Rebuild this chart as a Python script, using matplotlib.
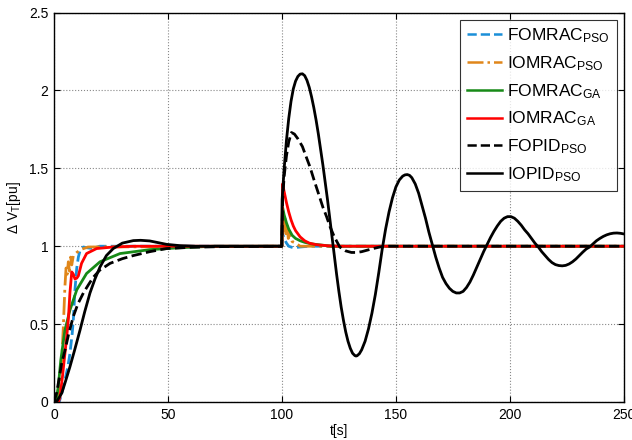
import numpy as np
import matplotlib
matplotlib.use("Agg")
import matplotlib.pyplot as plt

plt.rcParams['font.family'] = ['Liberation Sans', 'DejaVu Sans']
plt.rcParams['mathtext.fontset'] = 'custom'
plt.rcParams['mathtext.rm'] = 'Liberation Sans'
plt.rcParams['mathtext.it'] = 'Liberation Sans'

# FOMRAC_PSO
t_fomrac_pso = [0, 2.3, 3.5, 4.8, 6, 7, 8, 8.5, 9.2, 10, 10.7, 11.5, 12.9, 14.5, 17, 20,
                100, 100.3, 101, 102, 103, 105, 108, 112, 250]
v_fomrac_pso = [0, 0, 0.06, 0.14, 0.22, 0.31, 0.44, 0.53, 0.72, 0.86, 0.93, 0.975, 0.995, 0.99, 0.985, 1.0,
                1.0, 1.08, 1.05, 1.02, 1.0, 0.99, 0.995, 1.0, 1.0]

# IOMRAC_PSO
t_iomrac_pso = [0, 1.5, 2.5, 3.4, 4.1, 4.8, 5.3, 5.8, 6.3, 6.8, 7.3, 7.8, 8.5, 10, 12, 15,
                100, 100.3, 100.8, 101.3, 101.8, 102.3, 102.8, 103.5, 104.5, 106, 108, 112, 250]
v_iomrac_pso = [0, 0.04, 0.14, 0.27, 0.48, 0.74, 0.86, 0.82, 0.9, 0.84, 0.93, 0.88, 0.94, 0.96, 0.98, 0.995,
                1.0, 1.22, 1.1, 1.18, 1.08, 1.14, 1.05, 1.08, 1.03, 1.02, 1.0, 1.0, 1.0]

# FOMRAC_GA
t_fomrac_ga = [0, 1, 1.9, 3, 4.8, 7, 10, 14.3, 20.2, 29, 42, 55, 70,
               100, 100.3, 101, 102, 103, 104.5, 106, 108, 110, 113, 117, 122, 250]
v_fomrac_ga = [0, 0.01, 0.1, 0.27, 0.46, 0.59, 0.72, 0.825, 0.9, 0.953, 0.978, 0.99, 1.0,
               1.0, 1.25, 1.2, 1.15, 1.11, 1.07, 1.05, 1.035, 1.025, 1.015, 1.008, 1.0, 1.0]

# IOMRAC_GA
t_iomrac_ga = [0, 2, 2.6, 3.7, 4.8, 5.6, 6.3, 7, 7.8, 8.5, 9.2, 10, 10.7, 12.1, 14.3, 18.7, 26, 35,
               100, 100.3, 101, 102, 103, 104, 105, 106, 108, 110, 112, 115, 120, 125, 250]
v_iomrac_ga = [0, 0, 0.03, 0.16, 0.31, 0.42, 0.53, 0.7, 0.835, 0.82, 0.79, 0.795, 0.81, 0.89, 0.953, 0.985, 0.995, 1.0,
               1.0, 1.4, 1.35, 1.28, 1.22, 1.17, 1.13, 1.1, 1.06, 1.035, 1.02, 1.01, 1.003, 1.0, 1.0]

# FOPID_PSO
t_fopid = [0, 1.2, 1.9, 3.4, 4.8, 6.5, 8.5, 10.5, 12.9, 15, 17.2, 20, 24.6, 30, 34.8, 42, 49.4, 60, 75,
           100, 100.3, 101, 102, 103, 104.2, 105.5, 107, 109, 110.5, 112.3, 114, 116, 118, 119.6, 121,
           123, 125.4, 128, 130.5, 132.7, 135, 137.5, 140, 143, 147, 250]
v_fopid = [0, 0.06, 0.12, 0.25, 0.33, 0.44, 0.55, 0.63, 0.70, 0.75, 0.80, 0.845, 0.89, 0.92, 0.94, 0.965, 0.985, 0.993, 0.998,
           1.0, 1.3, 1.45, 1.58, 1.67, 1.73, 1.72, 1.69, 1.64, 1.58, 1.51, 1.43, 1.34, 1.25, 1.19, 1.13,
           1.06, 0.995, 0.97, 0.96, 0.96, 0.965, 0.975, 0.985, 0.995, 1.0, 1.0]

# IOPID_PSO
t_iopid = [0, 1.5, 3.4, 5, 7, 9, 11.4, 13.5, 15.8, 18, 20.2, 23, 26, 30, 34.8, 38, 42, 46, 49.4, 55, 62, 75,
           99.9, 100.1, 101, 102, 103, 104, 105, 106, 107, 108, 109, 110, 111, 112, 113, 114, 115, 116,
           117, 118, 119, 120, 121, 122, 123, 124, 125, 126, 127, 128, 129, 130, 131, 132, 132.5, 133,
           134, 135, 136.5, 138, 139.5, 141, 142.5, 144, 145.5, 147, 148.5, 150, 151.5, 153, 154, 155,
           156, 157, 158.5, 160, 161.5, 163, 164.5, 166, 167.5, 169, 170.5, 172, 173.5, 175, 176.5, 178,
           179.5, 181, 182.5, 184, 185.5, 187, 188.5, 190, 191.5, 193, 194.5, 196, 197.5, 199, 200.5,
           202, 203.5, 205, 206.5, 208, 209.5, 211, 212.5, 214, 215.5, 217, 218.5, 220, 221.5, 223,
           224.5, 226, 227.5, 229, 230.5, 232, 233.5, 235, 236.5, 238, 239.5, 241, 242.5, 244, 245.5,
           247, 248.5, 250]
v_iopid = [0, 0.01, 0.056, 0.13, 0.226, 0.33, 0.46, 0.58, 0.70, 0.79, 0.867, 0.94, 0.985, 1.02, 1.036, 1.038,
           1.034, 1.022, 1.012, 1.004, 1.0, 1.0,
           1.0, 1.3, 1.5, 1.68, 1.82, 1.93, 2.01, 2.06, 2.09, 2.105, 2.107, 2.095, 2.065, 2.02, 1.96, 1.89, 1.81, 1.72,
           1.62, 1.52, 1.41, 1.30, 1.18, 1.06, 0.94, 0.82, 0.71, 0.61, 0.525, 0.45, 0.39, 0.345, 0.313, 0.298, 0.295, 0.297,
           0.31, 0.335, 0.39, 0.47, 0.57, 0.69, 0.83, 0.98, 1.11, 1.22, 1.31, 1.38, 1.425, 1.45, 1.458, 1.46,
           1.455, 1.44, 1.40, 1.34, 1.26, 1.18, 1.09, 1.01, 0.93, 0.86, 0.80, 0.76, 0.73, 0.71, 0.70, 0.70,
           0.71, 0.735, 0.77, 0.815, 0.865, 0.915, 0.965, 1.01, 1.055, 1.095, 1.13, 1.16, 1.18, 1.19, 1.19,
           1.18, 1.16, 1.135, 1.105, 1.08, 1.05, 1.02, 0.995, 0.965, 0.94, 0.915, 0.895, 0.882, 0.876, 0.874,
           0.877, 0.886, 0.9, 0.918, 0.94, 0.962, 0.982, 0.995, 1.015, 1.035, 1.05, 1.063, 1.073, 1.08, 1.084,
           1.085, 1.083, 1.079]

fig = plt.figure(figsize=(6.32, 4.4), dpi=100)
ax = fig.add_axes([0.0854, 0.0864, 0.9016, 0.885])

lw = 2.0
ax.plot(t_fomrac_pso, v_fomrac_pso, '--', color='#1b8fd8', lw=lw, label=r'FOMRAC$_{\mathrm{PSO}}$')
ax.plot(t_iomrac_pso, v_iomrac_pso, '-.', color='#e0861a', lw=lw, label=r'IOMRAC$_{\mathrm{PSO}}$')
ax.plot(t_fomrac_ga, v_fomrac_ga, '-', color='#178a17', lw=lw, label=r'FOMRAC$_{\mathrm{GA}}$')
ax.plot(t_iomrac_ga, v_iomrac_ga, '-', color='#ff0000', lw=lw, label=r'IOMRAC$_{\mathrm{GA}}$')
ax.plot(t_fopid, v_fopid, '--', color='black', lw=lw, label=r'FOPID$_{\mathrm{PSO}}$')
ax.plot(t_iopid, v_iopid, '-', color='black', lw=lw, label=r'IOPID$_{\mathrm{PSO}}$')

ax.set_xlim(0, 250)
ax.set_ylim(0, 2.5)
ax.set_xticks([0, 50, 100, 150, 200, 250])
ax.set_yticks([0, 0.5, 1, 1.5, 2, 2.5])
ax.set_yticklabels(['0', '0.5', '1', '1.5', '2', '2.5'])
ax.grid(True, linestyle=':', color='#888888', lw=0.8)
ax.tick_params(direction='in', top=True, right=True, labelsize=10, length=4, pad=4)
for s in ax.spines.values():
    s.set_linewidth(1.0)

ax.set_xlabel('t[s]', fontsize=10, labelpad=2)
ax.set_ylabel(r'$\Delta$ V$_{\mathrm{T}}$[pu]', fontsize=10, labelpad=4)

leg = ax.legend(loc='upper right', fontsize=12.5, frameon=True, fancybox=False,
                edgecolor='black', handlelength=2.0, handletextpad=0.3,
                borderaxespad=0.4, labelspacing=0.52, borderpad=0.4)
leg.get_frame().set_linewidth(0.8)
for line in leg.get_lines():
    line.set_linewidth(1.8)

fig.savefig('out.png', dpi=100)
